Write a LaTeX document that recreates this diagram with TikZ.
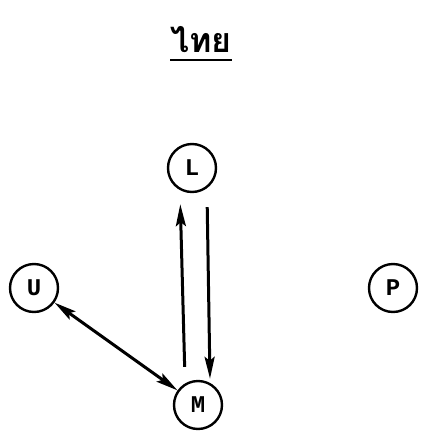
\documentclass[tikz,border=0pt]{standalone}
\usepackage{fontspec}
\setmonofont{Liberation Mono}
\newfontfamily\thaifont[Script=Thai]{Loma}
\usetikzlibrary{arrows.meta}

\begin{document}
\begin{tikzpicture}[x=1pt,y=-1pt,
	state/.style={circle,draw,line width=2.4pt,minimum size=48pt,inner sep=0pt,font=\ttfamily\bfseries\fontsize{24}{24}\selectfont},
	head tip/.tip={Stealth[length=22pt,width=10pt,inset=4pt]},
	arr/.style={line width=3pt,-head tip},
	title/.style={inner sep=0pt,font=\thaifont\bfseries\fontsize{34}{34}\selectfont}]
\useasboundingbox (0,0) rectangle (424,434);

\node[title] (head) at (201,40) {ไทย};
\draw[line width=2.6pt] ([yshift=-7pt]head.base west) -- ([yshift=-7pt]head.base east);

\node[state] (L) at (192,168) {L};
\node[state] (U) at (34,288) {U};
\node[state] (P) at (393,288) {P};
\node[state] (M) at (198,405) {M};

\draw[arr,shorten <=13pt,shorten >=11pt] ([xshift=-13pt]M.north) -- ([xshift=-12pt]L.south);
\draw[arr,shorten <=14pt,shorten >=1pt] ([xshift=15pt]L.south) -- ([xshift=12pt]M.north);
\draw[arr,head tip-head tip] (U) -- (M);

\end{tikzpicture}
\end{document}
